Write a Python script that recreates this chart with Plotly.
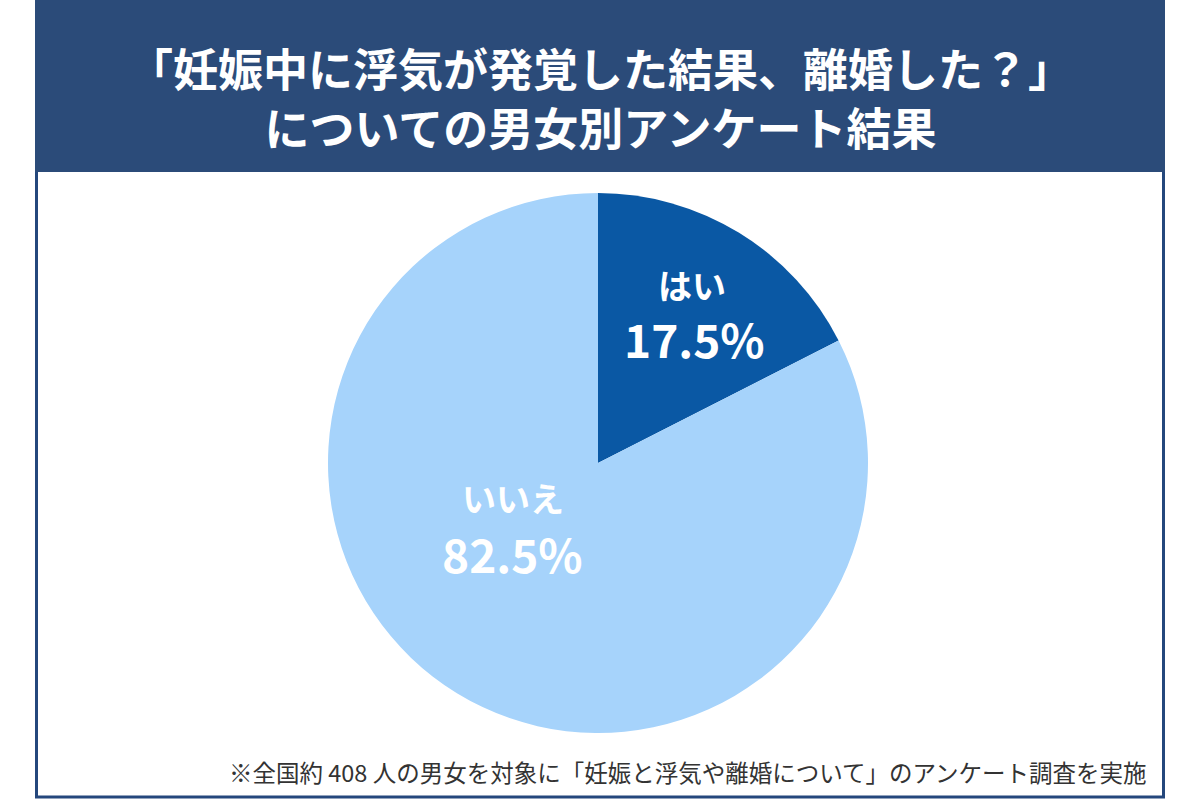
import plotly.graph_objects as go

labels = ["はい", "いいえ"]
values = [17.5, 82.5]
colors = ["#0a58a4", "#a6d3fb"]
title_lines = ["「妊娠中に浮気が発覚した結果、離婚した？」", "についての男女別アンケート結果"]
footnote = "※全国約 408 人の男女を対象に「妊娠と浮気や離婚について」のアンケート調査を実施"

W, H = 1200, 800
FONT = "Noto Sans CJK JP"

fig = go.Figure()
fig.add_trace(go.Pie(
    labels=labels, values=values, sort=False, direction="clockwise", rotation=0,
    marker=dict(colors=colors, line=dict(width=0)),
    textinfo="none", hoverinfo="label+percent", showlegend=False,
    domain=dict(x=[327 / W, 869 / W], y=[1 - 733 / H, 1 - 193 / H]),
))

shapes = [
    dict(type="rect", xref="paper", yref="paper", x0=36.5 / W, x1=1163.5 / W, y0=1 - 797 / H, y1=1,
         line=dict(color="#24477c", width=3), fillcolor="white", layer="below"),
    dict(type="rect", xref="paper", yref="paper", x0=35 / W, x1=1165 / W, y0=1 - 172 / H, y1=1,
         line=dict(width=0), fillcolor="#2b4b79", layer="below"),
]

ann = []
ann.append(dict(text="<br>".join("<b>" + t + "</b>" for t in title_lines),
                x=0.5, y=1 - 97 / H, xref="paper", yref="paper",
                showarrow=False, font=dict(family=FONT, size=45, color="white"),
                xanchor="center", yanchor="middle", align="center"))

pos = [((692, 285), (694, 338)), ((513, 497), (512, 553))]
for lab, val, ((lx, ly), (vx, vy)) in zip(labels, values, pos):
    ann.append(dict(text="<b>" + lab + "</b>", x=lx / W, y=1 - ly / H, xref="paper", yref="paper",
                    showarrow=False, font=dict(family=FONT, size=34, color="white"),
                    xanchor="center", yanchor="middle"))
    ann.append(dict(text="<b>%.1f%%</b>" % val, x=vx / W, y=1 - vy / H, xref="paper", yref="paper",
                    showarrow=False, font=dict(family=FONT, size=46, color="white"),
                    xanchor="center", yanchor="middle"))

ann.append(dict(text=footnote, x=1149 / W, y=1 - 772 / H, xref="paper", yref="paper",
                showarrow=False, font=dict(family=FONT, size=23.5, color="#333333"),
                xanchor="right", yanchor="middle"))

fig.update_layout(width=W, height=H, margin=dict(l=0, r=0, t=0, b=0),
                  paper_bgcolor="white", plot_bgcolor="white",
                  shapes=shapes, annotations=ann)
fig.write_html("out.html")
